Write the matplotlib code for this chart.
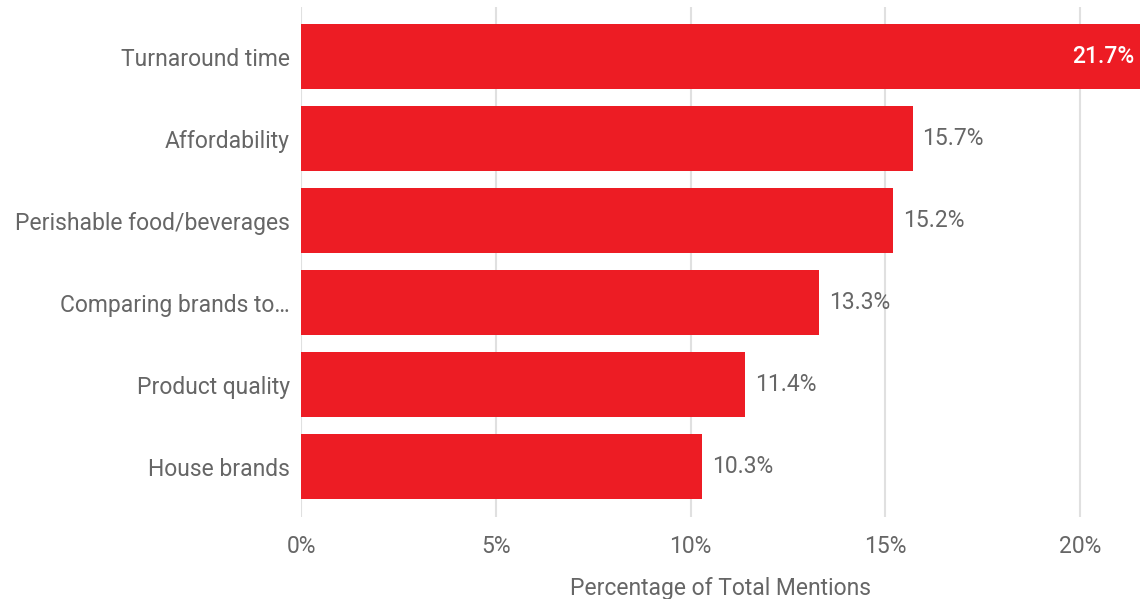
import matplotlib.pyplot as plt

categories = ["Turnaround time", "Affordability", "Perishable food/beverages",
              "Comparing brands to\u2026", "Product quality", "House brands"]
values = [21.7, 15.7, 15.2, 13.3, 11.4, 10.3]
ticks = [0, 5, 10, 15, 20]

plt.rcParams["font.family"] = ["Roboto", "DejaVu Sans"]
grey = "#666666"
red = "#ED1C24"
fs = 16.5

fig = plt.figure(figsize=(11.4, 5.99), dpi=100)
ax = fig.add_axes([301 / 1140, 1 - 517 / 599, 1 - 301 / 1140, 510 / 599])

ypos = list(range(len(categories)))
ax.barh(ypos, values, height=0.79, color=red, zorder=3)
ax.set_ylim(len(categories) - 1 + 0.615, -0.605)
ax.set_xlim(0, 21.54)

for y, v in zip(ypos, values):
    if v > 20:
        ax.text(21.54 - 0.15, y, f"{v}%", ha="right", va="center",
                color="white", fontsize=fs, fontweight="medium", zorder=4)
    else:
        ax.text(v + 0.25, y, f"{v}%", ha="left", va="center",
                color=grey, fontsize=fs, zorder=4)

ax.set_yticks(ypos)
ax.set_yticklabels(categories, fontsize=fs, color=grey)
ax.set_xticks(ticks)
ax.set_xticklabels([f"{t}%" for t in ticks], fontsize=fs, color=grey)
ax.tick_params(axis="both", length=0)
ax.tick_params(axis="y", pad=8)
ax.tick_params(axis="x", pad=13)
ax.grid(axis="x", color="#e0e0e0", linewidth=1.5, zorder=0)
for s in ax.spines.values():
    s.set_visible(False)
ax.set_xlabel("Percentage of Total Mentions", fontsize=fs, color=grey, labelpad=14)

fig.savefig("out.png", dpi=100)
